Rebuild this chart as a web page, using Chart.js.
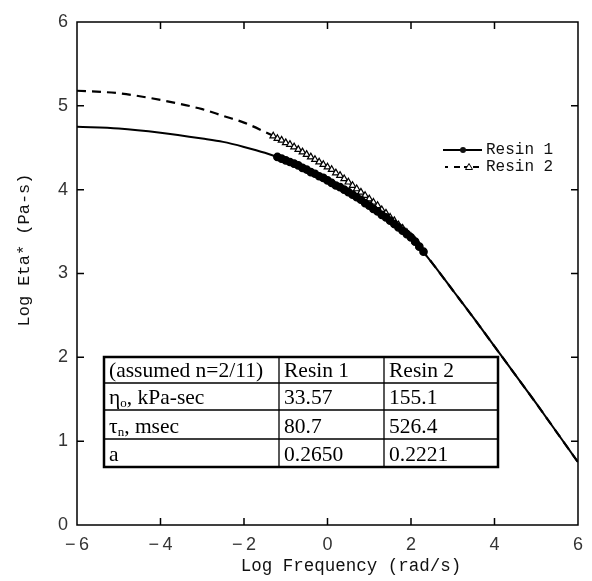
<!DOCTYPE html>
<html>
<head>
<meta charset="utf-8">
<title>Log Eta* vs Log Frequency</title>
<script src="https://cdn.jsdelivr.net/npm/chart.js@4.4.0/dist/chart.umd.min.js"></script>
<style>
  html, body { margin: 0; padding: 0; background: #fff; }
  #wrap { width: 592px; height: 581px; position: relative; }
</style>
</head>
<body>
<div id="wrap"><canvas id="myChart" width="592" height="581"></canvas></div>
<script>
// fitted model curves
var curveX  = [-6, -5, -4, -3, -2.5, -2, -1.5, -1, -0.5, 0, 0.5, 1, 1.5, 2, 2.5, 3, 3.5, 4, 4.5, 5, 5.5, 6];
var resin1Y = [4.75, 4.73, 4.68, 4.61, 4.57, 4.51, 4.44, 4.35, 4.24, 4.11, 3.97, 3.81, 3.63, 3.43, 3.13, 2.80, 2.47, 2.13, 1.79, 1.45, 1.10, 0.75];
var resin2Y = [5.18, 5.15, 5.07, 4.96, 4.88, 4.80, 4.69, 4.57, 4.42, 4.27, 4.09, 3.89, 3.67, 3.44, 3.13, 2.80, 2.47, 2.13, 1.79, 1.45, 1.10, 0.75];

// measured points
var meas1X = [-1.2, -1.1, -1.0, -0.9, -0.8, -0.7, -0.6, -0.5, -0.4, -0.3, -0.2, -0.1, 0, 0.1, 0.2, 0.3, 0.4, 0.5, 0.6, 0.7, 0.8, 0.9, 1.0, 1.1, 1.2, 1.3, 1.4, 1.5, 1.6, 1.7, 1.8, 1.9, 2.0, 2.1, 2.2, 2.3];
var meas1Y = [4.39, 4.37, 4.35, 4.33, 4.31, 4.29, 4.26, 4.24, 4.21, 4.19, 4.16, 4.14, 4.11, 4.08, 4.05, 4.03, 4.00, 3.97, 3.94, 3.91, 3.88, 3.84, 3.81, 3.77, 3.74, 3.70, 3.67, 3.63, 3.59, 3.55, 3.51, 3.47, 3.43, 3.38, 3.32, 3.26];
var meas2X = [-1.3, -1.2, -1.1, -1.0, -0.9, -0.8, -0.7, -0.6, -0.5, -0.4, -0.3, -0.2, -0.1, 0, 0.1, 0.2, 0.3, 0.4, 0.5, 0.6, 0.7, 0.8, 0.9, 1.0, 1.1, 1.2, 1.3, 1.4, 1.5, 1.6, 1.7, 1.8, 1.9, 2.0, 2.1, 2.2];
var meas2Y = [4.64, 4.61, 4.59, 4.56, 4.54, 4.51, 4.48, 4.45, 4.42, 4.39, 4.36, 4.33, 4.30, 4.27, 4.24, 4.20, 4.17, 4.13, 4.09, 4.05, 4.01, 3.97, 3.93, 3.89, 3.85, 3.81, 3.76, 3.72, 3.67, 3.63, 3.58, 3.54, 3.49, 3.44, 3.39, 3.33];

var xTicks = [-6, -4, -2, 0, 2, 4, 6];
var yTicks = [0, 1, 2, 3, 4, 5, 6];
var seriesNames = ["Resin 1", "Resin 2"];

// table in the plot
var tableRows = [
  ["(assumed n=2/11)", "Resin 1", "Resin 2"],
  ["η|o|, kPa-sec", "33.57", "155.1"],
  ["τ|n|, msec", "80.7", "526.4"],
  ["a", "0.2650", "0.2221"]
];

function pts(xs, ys) {
  return xs.map(function (x, i) { return { x: x, y: ys[i] }; });
}

// frame, inward ticks, titles, legend, table
var decor = {
  id: "decor",
  afterDraw: function (chart) {
    var ctx = chart.ctx;
    var a = chart.chartArea;
    var sx = chart.scales.x, sy = chart.scales.y;
    ctx.save();
    ctx.strokeStyle = "#000";
    ctx.lineWidth = 1.5;
    ctx.strokeRect(a.left, a.top, a.right - a.left, a.bottom - a.top);
    ctx.beginPath();
    xTicks.slice(1, -1).forEach(function (v) {
      var px = sx.getPixelForValue(v);
      ctx.moveTo(px, a.bottom); ctx.lineTo(px, a.bottom - 7);
      ctx.moveTo(px, a.top); ctx.lineTo(px, a.top + 7);
    });
    yTicks.slice(1, -1).forEach(function (v) {
      var py = sy.getPixelForValue(v);
      ctx.moveTo(a.left, py); ctx.lineTo(a.left + 7, py);
      ctx.moveTo(a.right, py); ctx.lineTo(a.right - 7, py);
    });
    ctx.stroke();

    // axis titles
    ctx.fillStyle = "#111";
    ctx.font = "17.5px 'Liberation Mono'";
    ctx.textAlign = "center";
    ctx.textBaseline = "middle";
    ctx.fillText("Log Frequency (rad/s)", 351, 566);
    ctx.save();
    ctx.translate(24, 250);
    ctx.rotate(-Math.PI / 2);
    ctx.font = "17px 'Liberation Mono'";
    ctx.fillText("Log Eta* (Pa-s)", 0, 0);
    ctx.restore();

    // legend
    ctx.font = "16px 'Liberation Mono'";
    ctx.textAlign = "left";
    ctx.fillText(seriesNames[0], 486, 150);
    ctx.fillText(seriesNames[1], 486, 167);
    ctx.lineWidth = 1.8;
    ctx.beginPath(); ctx.moveTo(443, 150); ctx.lineTo(482, 150); ctx.stroke();
    ctx.beginPath(); ctx.arc(463, 150, 3, 0, Math.PI * 2); ctx.fill();
    ctx.setLineDash([3, 6, 6, 4]);
    ctx.beginPath(); ctx.moveTo(445, 167); ctx.lineTo(481, 167); ctx.stroke();
    ctx.setLineDash([]);
    ctx.lineWidth = 1;
    ctx.fillStyle = "#fff";
    ctx.beginPath(); ctx.moveTo(469, 163.5); ctx.lineTo(472.5, 169.5); ctx.lineTo(465.5, 169.5); ctx.closePath();
    ctx.fill(); ctx.stroke();

    // parameter table
    var colX = [104, 279, 384, 498];
    var rowY = [357, 383, 410, 439, 467];
    ctx.fillStyle = "#fff";
    ctx.fillRect(colX[0], rowY[0], colX[3] - colX[0], rowY[4] - rowY[0]);
    ctx.strokeStyle = "#000";
    ctx.lineWidth = 1.3;
    ctx.beginPath();
    for (var r = 1; r < 4; r++) { ctx.moveTo(colX[0], rowY[r]); ctx.lineTo(colX[3], rowY[r]); }
    for (var c = 1; c < 3; c++) { ctx.moveTo(colX[c], rowY[0]); ctx.lineTo(colX[c], rowY[4]); }
    ctx.stroke();
    ctx.lineWidth = 2.5;
    ctx.strokeRect(colX[0], rowY[0], colX[3] - colX[0], rowY[4] - rowY[0]);
    ctx.fillStyle = "#000";
    ctx.textBaseline = "alphabetic";
    tableRows.forEach(function (row, ri) {
      var base = rowY[ri + 1] - 6;
      row.forEach(function (cell, ci) {
        var x = colX[ci] + 5;
        var parts = cell.split("|");
        ctx.font = "21.5px 'Liberation Serif'";
        ctx.fillText(parts[0], x, base);
        if (parts.length > 1) {
          x += ctx.measureText(parts[0]).width;
          ctx.font = "13px 'Liberation Serif'";
          ctx.fillText(parts[1], x, base + 3);
          x += ctx.measureText(parts[1]).width;
          ctx.font = "21.5px 'Liberation Serif'";
          ctx.fillText(parts[2], x, base);
        }
      });
    });
    ctx.restore();
  }
};

var ctx = document.getElementById("myChart").getContext("2d");
var myChart = new Chart(ctx, {
  type: "line",
  data: {
    datasets: [{
      label: seriesNames[0],
      data: pts(meas1X, meas1Y),
      showLine: false,
      pointStyle: "circle",
      pointRadius: 3.6,
      pointBackgroundColor: "#000",
      pointBorderColor: "#000",
      pointBorderWidth: 1.5
    }, {
      label: seriesNames[1],
      data: pts(meas2X, meas2Y),
      showLine: false,
      pointStyle: "triangle",
      pointRadius: 3.8,
      pointBackgroundColor: "#fff",
      pointBorderColor: "#000",
      pointBorderWidth: 1.2
    }, {
      label: seriesNames[0] + " fit",
      data: pts(curveX, resin1Y),
      borderColor: "#000",
      borderWidth: 2,
      pointRadius: 0,
      cubicInterpolationMode: "monotone"
    }, {
      label: seriesNames[1] + " fit",
      data: pts(curveX, resin2Y),
      borderColor: "#000",
      borderWidth: 2.2,
      borderDash: [9, 6],
      pointRadius: 0,
      cubicInterpolationMode: "monotone"
    }]
  },
  options: {
    responsive: false,
    animation: false,
    layout: { padding: { top: 22, right: 5, left: 0, bottom: 0 } },
    plugins: {
      legend: { display: false },
      tooltip: { enabled: false }
    },
    scales: {
      x: {
        type: "linear",
        min: -6, max: 6,
        afterFit: function (s) { s.height = 56; },
        afterBuildTicks: function (s) { s.ticks = xTicks.map(function (v) { return { value: v }; }); },
        grid: { display: false, drawTicks: false, tickLength: 0 },
        border: { display: false },
        ticks: {
          padding: 9,
          color: "#333",
          font: { family: "'Liberation Sans'", size: 18 },
          maxRotation: 0,
          callback: function (v) { return v < 0 ? "\u2212\u2009" + Math.abs(v) : String(v); }
        }
      },
      y: {
        type: "linear",
        min: 0, max: 6,
        afterFit: function (s) { s.width = 77; },
        afterBuildTicks: function (s) { s.ticks = yTicks.map(function (v) { return { value: v }; }); },
        grid: { display: false, drawTicks: false, tickLength: 0 },
        border: { display: false },
        ticks: {
          padding: 9,
          color: "#333",
          font: { family: "'Liberation Sans'", size: 18 }
        }
      }
    }
  },
  plugins: [decor]
});
</script>
</body>
</html>
